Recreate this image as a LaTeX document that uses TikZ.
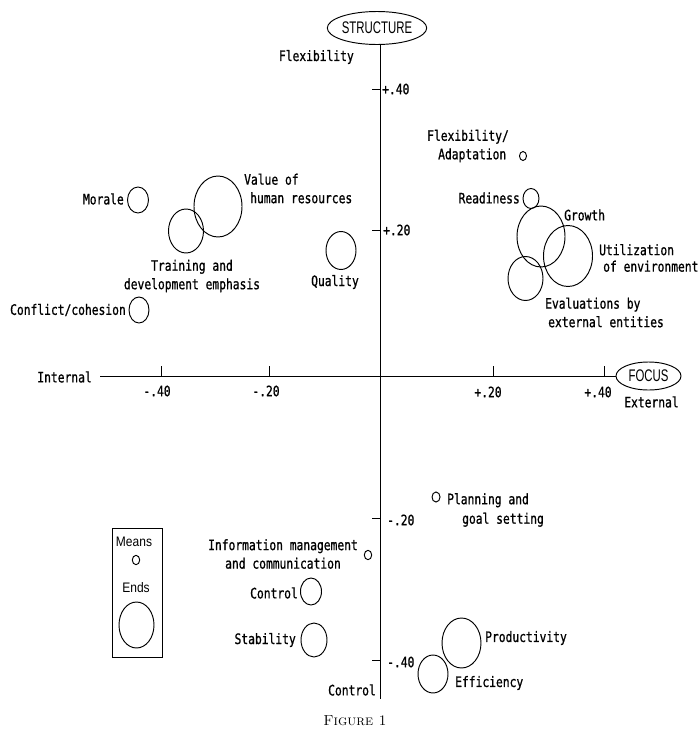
\documentclass[tikz,border=0pt]{standalone}
\usepackage{fontspec}
\usepackage{graphicx}
\usetikzlibrary{shapes.geometric}
\newfontfamily\letterfont[UprightFeatures={FakeBold=1}]{DejaVu Sans Mono}
\newfontfamily\capsfont{Liberation Sans}
% lettering is drawn taller than wide
\newcommand{\tall}[1]{\scalebox{1}[1.27]{#1}}
\newcommand{\boxcaps}[1]{\scalebox{0.95}[1.4]{#1}}
\newcommand{\keytext}[1]{\scalebox{1}[1.15]{#1}}

\begin{document}
\begin{tikzpicture}[x=1pt,y=-1pt,
  lbl/.style={font=\letterfont\fontsize{11.3}{18.5}\selectfont, inner sep=0pt},
  blob/.style={draw, ellipse, inner sep=0pt, line width=0.95pt},
  axisline/.style={line width=1pt},
  tickmark/.style={line width=0.9pt},
  poletag/.style={draw, ellipse, inner sep=0pt, line width=0.95pt,
    font=\capsfont\fontsize{12}{14}\selectfont},
  keyfont/.style={font=\capsfont\fontsize{12}{14}\selectfont, inner sep=0pt}]
\useasboundingbox (0,0) rectangle (699,731);

% ---- dimension tags ----
\node[poletag, minimum width=83, minimum height=33] (struct) at (377,28) {\boxcaps{STRUCTURE}};
\node[poletag, minimum width=65, minimum height=28] (focus) at (648.5,376) {\boxcaps{FOCUS}};

% ---- axes ----
\coordinate (vbot) at (380,699);
\coordinate (hleft) at (100,376);
\draw[axisline] (struct.south -| vbot) -- (vbot);
\draw[axisline] (hleft) -- (focus.west);

% ticks on the vertical axis
\foreach \yy in {89,230,518,660} \draw[tickmark] (372,\yy) -- (380,\yy);
% ticks on the horizontal axis
\foreach \xx in {161,269,493,604} \draw[tickmark] (\xx,376) -- (\xx,366);

% tick labels
\node[lbl, anchor=west] (vp40) at (382,89) {\tall{+.40}};
\node[lbl, anchor=west] (vp20) at (383,230) {\tall{+.20}};
\node[lbl, anchor=west] (vm20) at (387,520) {\tall{-.20}};
\node[lbl, anchor=west] (vm40) at (387,662) {\tall{-.40}};
\node[lbl] (hm40) at (157,391) {\tall{-.40}};
\node[lbl] (hm20) at (266,391) {\tall{-.20}};
\node[lbl] (hp20) at (488,392) {\tall{+.20}};
\node[lbl] (hp40) at (598,392) {\tall{+.40}};

% pole labels
\node[lbl, anchor=east] (flexpole) at (354,57) {\tall{Flexibility}};
\node[lbl, anchor=east] (internal) at (92,377) {\tall{Internal}};
\node[lbl] (external) at (651.5,402) {\tall{External}};
\node[lbl, anchor=east] (ctrlpole) at (376,690) {\tall{Control}};

% ---- criteria ----
\node[blob, minimum width=21, minimum height=26] (morale) at (138,200) {};
\node[blob, minimum width=48, minimum height=61] (value) at (218,206.5) {};
\node[blob, minimum width=35, minimum height=44] (training) at (186,231) {};
\node[blob, minimum width=20, minimum height=26] (conflict) at (139,310) {};
\node[blob, minimum width=30, minimum height=38] (quality) at (341,250.5) {};
\node[blob, minimum width=7, minimum height=9] (flexadapt) at (523,156) {};
\node[blob, minimum width=16, minimum height=20] (readiness) at (531,198.5) {};
\node[blob, minimum width=48, minimum height=61] (growth) at (541,236.5) {};
\node[blob, minimum width=49, minimum height=61] (utilization) at (568,256) {};
\node[blob, minimum width=35, minimum height=44] (evaluations) at (525.5,278.5) {};
\node[blob, minimum width=8, minimum height=10] (planning) at (436,497) {};
\node[blob, minimum width=7.4, minimum height=9.4] (infomgmt) at (368,555) {};
\node[blob, minimum width=21, minimum height=27] (control) at (311,591.5) {};
\node[blob, minimum width=26, minimum height=34] (stability) at (314,640) {};
\node[blob, minimum width=39, minimum height=50] (productivity) at (461.5,643) {};
\node[blob, minimum width=30, minimum height=38] (efficiency) at (433,674) {};

% criterion labels
\node[lbl, anchor=east] (moraletxt) at (124,199) {\tall{Morale}};
\node[lbl, anchor=west, align=left] (valuetxt) at (244,188.5)
  {\tall{Value of}\\\hspace*{6pt}\tall{human resources}};
\node[lbl, align=center] (trainingtxt) at (192,276)
  {\tall{Training and}\\\tall{development emphasis}};
\node[lbl, anchor=east] (conflicttxt) at (126,310) {\tall{Conflict/cohesion}};
\node[lbl] (qualitytxt) at (335,282) {\tall{Quality}};
\node[lbl, anchor=west, align=left] (flexadapttxt) at (427,146)
  {\tall{Flexibility/}\\\hspace*{11pt}\tall{Adaptation}};
\node[lbl, anchor=east] (readinesstxt) at (520,198) {\tall{Readiness}};
\node[lbl, anchor=west] (growthtxt) at (564,215) {\tall{Growth}};
\node[lbl, anchor=west, align=left] (utiltxt) at (599,258)
  {\tall{Utilization}\\[-2pt]\hspace*{4pt}\tall{of environment}};
\node[lbl, anchor=west, align=left] (evaltxt) at (545,312.5)
  {\tall{Evaluations by}\\\hspace*{3pt}\tall{external entities}};
\node[lbl, anchor=west, align=left] (planningtxt) at (447,510)
  {\tall{Planning and}\\[1pt]\hspace*{15pt}\tall{goal setting}};
\node[lbl, align=center] (infotxt) at (283,554)
  {\tall{Information management}\\\tall{and communication}};
\node[lbl, anchor=east] (controltxt) at (298,593) {\tall{Control}};
\node[lbl, anchor=east] (stabilitytxt) at (296,640) {\tall{Stability}};
\node[lbl, anchor=west] (productivitytxt) at (485,638) {\tall{Productivity}};
\node[lbl, anchor=west] (efficiencytxt) at (455,683) {\tall{Efficiency}};

% ---- key ----
\node[draw, line width=0.95pt, minimum width=50, minimum height=129, inner sep=0pt] (key) at (137,592.5) {};
\node[keyfont] (meanstxt) at (134,542) {\keytext{Means}};
\node[blob, minimum width=7.4, minimum height=9.4] (meansmark) at (136,560) {};
\node[keyfont] (endstxt) at (136,588) {\keytext{Ends}};
\node[blob, minimum width=35, minimum height=46] (endsmark) at (136.5,625) {};

% ---- caption ----
\node[font=\fontsize{14.5}{16}\selectfont, inner sep=0pt] (caption) at (355,721) {\textsc{Figure 1}};
\end{tikzpicture}
\end{document}
